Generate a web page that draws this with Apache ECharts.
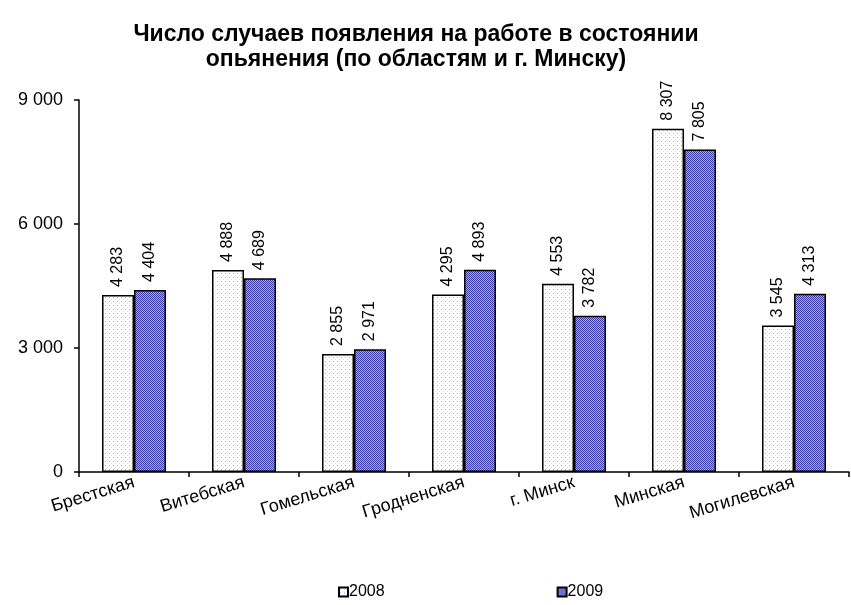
<!DOCTYPE html>
<html><head><meta charset="utf-8">
<script src="https://cdn.jsdelivr.net/npm/echarts@6/dist/echarts.min.js"></script>
<style>html,body{margin:0;padding:0;background:#fff}#c{width:851px;height:605px}</style>
</head><body><div id="c"></div>
<script>
const categories = ['Брестская','Витебская','Гомельская','Гродненская','г. Минск','Минская','Могилевская'];
const values2008 = [4283, 4888, 2855, 4295, 4553, 8307, 3545];
const values2009 = [4404, 4689, 2971, 4893, 3782, 7805, 4313];
const seriesNames = ['2008', '2009'];
const yTicks = [0, 3000, 6000, 9000];

function makePattern(kind){
  const c = document.createElement('canvas');
  c.width = 4; c.height = 4;
  const g = c.getContext('2d');
  if (kind === 'dots') {
    g.fillStyle = '#ffffff'; g.fillRect(0,0,4,4);
    g.fillStyle = '#a8a8e0'; g.fillRect(1,1,1,1);
    g.fillStyle = '#dcdcf2'; g.fillRect(3,3,1,1);
  } else {
    for (let y=0;y<4;y++) for (let x=0;x<4;x++){
      g.fillStyle = ((x+y)%2===0) ? '#4040b0' : '#a0a0f4';
      g.fillRect(x,y,1,1);
    }
  }
  return {image: c, repeat: 'repeat'};
}
const fmt = v => String(v).replace(/\B(?=(\d{3})+(?!\d))/g, ' ');
const font = 'Liberation Sans, Arial, sans-serif';

const chart = echarts.init(document.getElementById('c'));
const fills = [makePattern('dots'), makePattern('check')];
chart.setOption({
  animation: false,
  title: {
    text: 'Число случаев появления на работе в состоянии\nопьянения (по областям и г. Минску)',
    left: 411, top: 17, textAlign: 'center',
    textStyle: {fontFamily: font, fontSize: 23, fontWeight: 'bold', color: '#000', lineHeight: 25}
  },
  legend: {
    data: seriesNames, bottom: 0, left: 333, itemGap: 172,
    itemWidth: 9, itemHeight: 9, icon: 'rect',
    textStyle: {fontFamily: font, fontSize: 16, color: '#000', padding: [0,0,0,-4]}
  },
  grid: {left: 79, right: 2, top: 100, bottom: 133},
  xAxis: {
    type: 'category', data: categories,
    axisLine: {lineStyle: {color: '#000', width: 1.5}},
    axisTick: {show: true, length: 5, lineStyle: {color: '#000', width: 1.5}},
    axisLabel: {rotate: 17, fontFamily: font, fontSize: 18, color: '#000', margin: 10}
  },
  yAxis: {
    type: 'value', min: 0, max: 9000, interval: 3000,
    axisLine: {show: true, lineStyle: {color: '#000', width: 1.5}},
    axisTick: {show: true, length: 5, lineStyle: {color: '#000', width: 1.5}},
    splitLine: {show: false},
    axisLabel: {formatter: v => fmt(v), fontFamily: font, fontSize: 18, color: '#000', margin: 16}
  },
  series: [values2008, values2009].map((vals, i) => ({
    name: seriesNames[i], type: 'bar', data: vals,
    barWidth: 32, barGap: '0%',
    itemStyle: {color: fills[i], borderColor: '#000', borderWidth: 1.5},
    label: {show: true, position: 'top', rotate: 90, align: 'left', verticalAlign: 'middle',
      distance: 8, formatter: p => fmt(p.value), fontFamily: font, fontSize: 16, color: '#000'}
  }))
});
</script></body></html>
